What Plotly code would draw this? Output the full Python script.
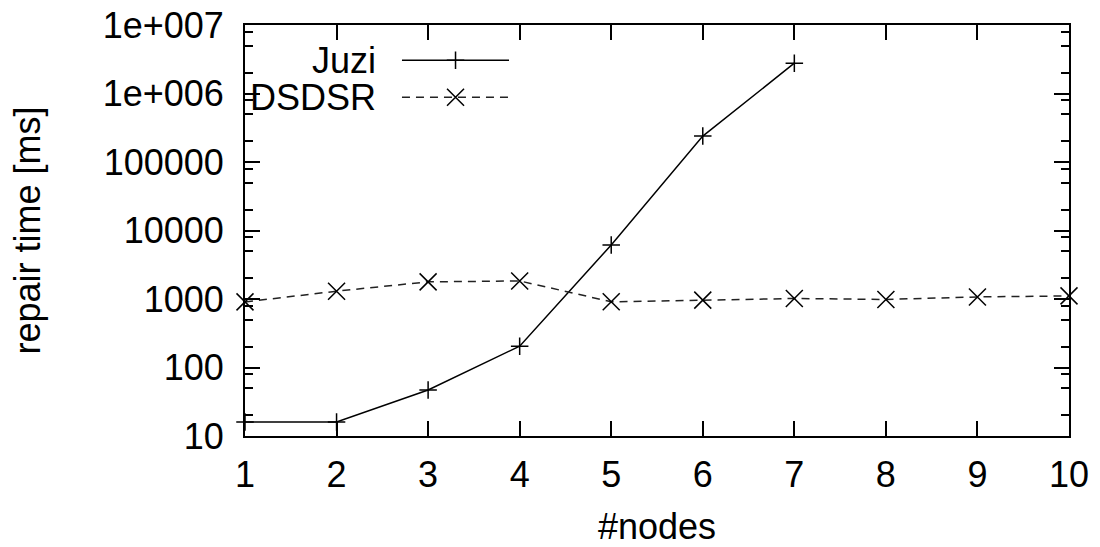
import plotly.graph_objects as go

nodes = [1, 2, 3, 4, 5, 6, 7, 8, 9, 10]
juzi_nodes = [1, 2, 3, 4, 5, 6, 7]
juzi_ms = [16, 16, 47, 205, 6150, 239000, 2770000]
dsdsr_ms = [907, 1300, 1780, 1835, 910, 962, 1017, 985, 1072, 1110]

ytick_vals = [10, 100, 1000, 10000, 100000, 1000000, 10000000]
ytick_text = ["10", "100", "1000", "10000", "100000", "1e+006", "1e+007"]
series_names = ["Juzi", "DSDSR"]

FONT = "Liberation Sans, Arial, sans-serif"
FS = 36

minor_vals = [m * 10 ** d for d in range(1, 7) for m in (2, 5, 8)]

fig = go.Figure()
fig.add_trace(go.Scatter(
    x=juzi_nodes, y=juzi_ms, mode="lines+markers", name="Juzi",
    line=dict(color="black", width=1.5),
    marker=dict(symbol="cross-thin", size=12.5, line=dict(color="black", width=1.5)),
    cliponaxis=False, showlegend=False))
fig.add_trace(go.Scatter(
    x=nodes, y=dsdsr_ms, mode="lines+markers", name="DSDSR",
    line=dict(color="#222222", width=1.5, dash="8px,6px"),
    marker=dict(symbol="x-thin", size=17, line=dict(color="black", width=1.5)),
    cliponaxis=False, showlegend=False))

# legend samples on an overlay axis (0..1)
leg_y = [0.914, 0.824]
leg_x0, leg_x1, leg_xm = 0.1905, 0.3204, 0.2555
styles = [
    (dict(color="black", width=1.5), dict(symbol="cross-thin", size=12.5, line=dict(color="black", width=1.5))),
    (dict(color="#222222", width=1.5, dash="8px,6px"), dict(symbol="x-thin", size=17, line=dict(color="black", width=1.5))),
]
for i, (ln, mk) in enumerate(styles):
    fig.add_trace(go.Scatter(x=[leg_x0, leg_x1], y=[leg_y[i], leg_y[i]], mode="lines",
                             line=ln, xaxis="x2", yaxis="y2", showlegend=False, hoverinfo="skip"))
    fig.add_trace(go.Scatter(x=[leg_xm], y=[leg_y[i]], mode="markers", marker=mk,
                             xaxis="x2", yaxis="y2", showlegend=False, hoverinfo="skip"))
    fig.add_annotation(x=0.1614, y=leg_y[i], xref="paper", yref="paper", text=series_names[i],
                       showarrow=False, xanchor="right", yanchor="middle",
                       font=dict(family=FONT, size=FS, color="black"))

axis_common = dict(showline=True, linecolor="black", linewidth=2, mirror="allticks",
                   ticks="inside", tickwidth=2, tickcolor="black", showgrid=False, zeroline=False,
                   tickfont=dict(family=FONT, size=FS, color="black"), automargin=False)

fig.update_layout(
    width=1100, height=547,
    margin=dict(l=245, r=31, t=25, b=111),
    paper_bgcolor="white", plot_bgcolor="white",
    font=dict(family=FONT, size=FS, color="black"),
    xaxis=dict(range=[1, 10], tickvals=nodes, ticklen=15, ticklabelstandoff=6,
               title=dict(text="#nodes", font=dict(family=FONT, size=FS), standoff=36),
               **axis_common),
    yaxis=dict(type="log", range=[1, 7], tickvals=ytick_vals, ticktext=ytick_text, ticklen=15,
               ticklabelstandoff=12,
               minor=dict(tickvals=minor_vals, ticks="inside", ticklen=8, tickwidth=2, tickcolor="black"),
               title=dict(text="repair time [ms]", font=dict(family=FONT, size=FS), standoff=51),
               **axis_common),
    xaxis2=dict(overlaying="x", range=[0, 1], visible=False),
    yaxis2=dict(overlaying="y", range=[0, 1], visible=False),
)

fig.write_html("out.html")
